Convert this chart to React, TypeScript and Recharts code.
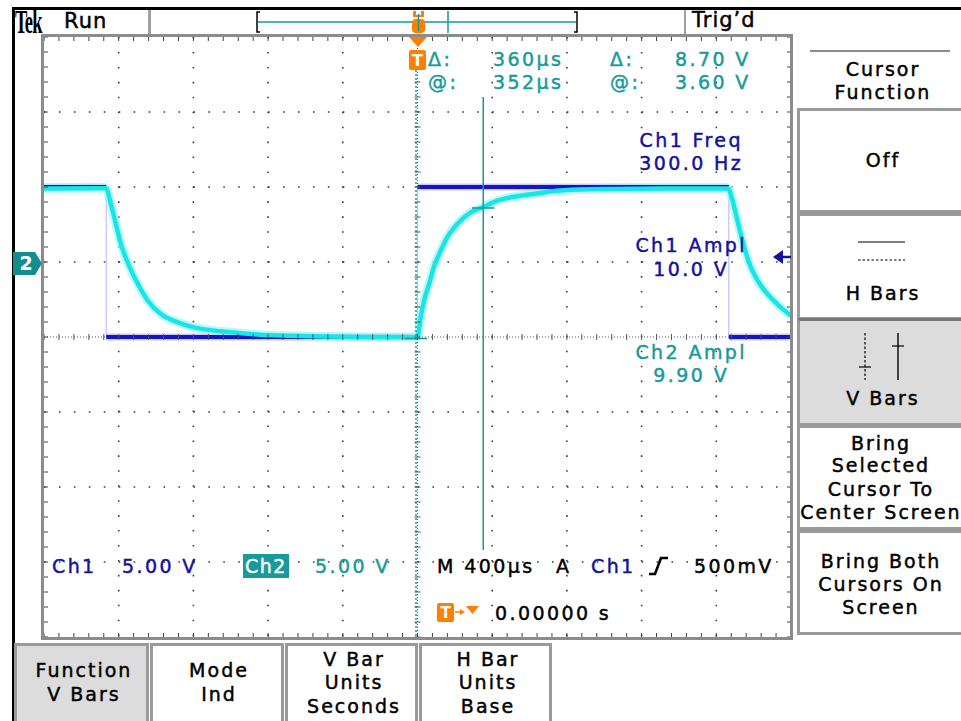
import React from 'react';
import {
  ComposedChart,
  Line,
  Scatter,
  XAxis,
  YAxis,
  CartesianGrid,
  ReferenceLine,
} from 'recharts';

// time in µs (400 µs/div, trigger at centre), both channels in volts (5 V/div)
const ch1Trace = [
  { t: -2000, v: 10 },
  { t: -1667, v: 10 },
  { t: -1667, v: 0 },
  { t: 0, v: 0 },
  { t: 0, v: 10 },
  { t: 1667, v: 10 },
  { t: 1667, v: 0 },
  { t: 2000, v: 0 },
];

const ch2Trace = [
  { t: -2000, v: 4.9 },
  { t: -1700, v: 4.92 },
  { t: -1668, v: 4.92 },
  { t: -1642, v: 3.87 },
  { t: -1615, v: 2.53 },
  { t: -1588, v: 1.2 },
  { t: -1553, v: 0.0 },
  { t: -1497, v: -1.47 },
  { t: -1444, v: -2.58 },
  { t: -1374, v: -3.47 },
  { t: -1283, v: -4.02 },
  { t: -1196, v: -4.36 },
  { t: -1053, v: -4.62 },
  { t: -893, v: -4.8 },
  { t: -768, v: -4.89 },
  { t: -500, v: -4.96 },
  { t: -200, v: -5.0 },
  { t: 0, v: -5.02 },
  { t: 17, v: -3.69 },
  { t: 35, v: -2.58 },
  { t: 62, v: -1.47 },
  { t: 88, v: -0.33 },
  { t: 124, v: 0.75 },
  { t: 159, v: 1.64 },
  { t: 213, v: 2.53 },
  { t: 285, v: 3.31 },
  { t: 347, v: 3.64 },
  { t: 427, v: 4.09 },
  { t: 552, v: 4.42 },
  { t: 677, v: 4.64 },
  { t: 784, v: 4.78 },
  { t: 1040, v: 4.87 },
  { t: 1300, v: 4.9 },
  { t: 1663, v: 4.9 },
  { t: 1685, v: 4.2 },
  { t: 1711, v: 2.87 },
  { t: 1738, v: 1.53 },
  { t: 1774, v: 0.0 },
  { t: 1827, v: -1.35 },
  { t: 1899, v: -2.47 },
  { t: 1988, v: -3.47 },
  { t: 2000, v: -3.58 },
];

// cursors: dotted one at -8 µs, solid (selected) one at 352 µs, read on ch2
const cursorTimes = [-8, 352];
const cursorLevels = [-5.1, 3.6];

const majorTimes = [-1600, -1200, -800, -400, 400, 800, 1200, 1600];
const majorVolts = [-15, -10, -5, 5, 10, 15];
const minorTimes = Array.from({ length: 51 }, (_, i) => -2000 + i * 80);
const minorCh1 = Array.from({ length: 41 }, (_, i) => -20 + i);
const minorCh2 = Array.from({ length: 41 }, (_, i) => -25 + i);

const ch1Thick = ch1Trace.flatMap((p, i) =>
  i > 0 && ch1Trace[i - 1].t === p.t ? [{ t: p.t, v: null }, p] : [p]
);
const centreTicksH = minorTimes.map((t) => ({ t, v: 0 }));
const centreTicksV = minorCh1.map((v) => ({ t: 0, v }));

const TEAL = '#169a9a';
const BLUE = '#12129e';
const ORANGE = '#ff7f00';
const FONT = "'DejaVu Sans', 'Noto Sans', sans-serif";

const Txt = ({ x, y, children, c = '#000', s = 19, ls = 2.4, center = false }: any) => (
  <div
    style={{
      position: 'absolute',
      left: x,
      top: y - s * 0.48,
      fontSize: s,
      lineHeight: `${s}px`,
      letterSpacing: ls,
      color: c,
      whiteSpace: 'nowrap',
      WebkitTextStroke: `0.45px ${c}`,
      transform: center ? 'translateX(-50%)' : undefined,
      paddingLeft: center ? ls : 0,
    }}>
    {children}
  </div>
);

const Box = ({ x, y, w, h, bg = '#fff', top = '#9a9a9a' }: any) => (
  <div
    style={{
      position: 'absolute',
      left: x,
      top: y,
      width: w,
      height: h,
      background: bg,
      borderLeft: '3px solid #9a9a9a',
      borderTop: `3px solid ${top}`,
      borderRight: '3px solid #9a9a9a',
      borderBottom: '3px solid #9a9a9a',
      boxSizing: 'border-box',
    }}
  />
);

const MenuText = ({ x, lines }: any) => (
  <>
    {lines.map(([label, y]: any) => (
      <Txt key={label + y} x={x} y={y} s={19} ls={2} center>
        {label}
      </Txt>
    ))}
  </>
);

const tickH = (props: any) => (
  <line x1={props.cx} y1={props.cy - 3} x2={props.cx} y2={props.cy + 3} stroke="#555" strokeWidth={1} />
);
const tickV = (props: any) => (
  <line x1={props.cx - 3} y1={props.cy} x2={props.cx + 3} y2={props.cy} stroke="#555" strokeWidth={1} />
);

const Scope = () => (
  <ComposedChart width={747} height={600} margin={{ top: 0, right: 0, bottom: 0, left: 0 }}>
    <XAxis xAxisId="t" dataKey="t" type="number" domain={[-2000, 2000]} ticks={minorTimes}
      orientation="bottom" mirror axisLine={false} tickSize={4} tickLine={{ stroke: '#444' }}
      tickFormatter={() => ''} allowDataOverflow />
    <XAxis xAxisId="tTop" dataKey="t" type="number" domain={[-2000, 2000]} ticks={minorTimes}
      orientation="top" mirror axisLine={false} tickSize={4} tickLine={{ stroke: '#444' }}
      tickFormatter={() => ''} allowDataOverflow />
    <YAxis yAxisId="ch1" dataKey="v" type="number" domain={[-20, 20]} ticks={minorCh1}
      orientation="left" mirror axisLine={false} tickSize={4} tickLine={{ stroke: '#444' }}
      tickFormatter={() => ''} allowDataOverflow />
    <YAxis yAxisId="ch2" dataKey="v" type="number" domain={[-25, 15]} ticks={minorCh2}
      orientation="right" mirror axisLine={false} tickSize={4} tickLine={{ stroke: '#444' }}
      tickFormatter={() => ''} allowDataOverflow />
    <CartesianGrid xAxisId="t" yAxisId="ch1" verticalValues={majorTimes} horizontalValues={majorVolts}
      stroke="#3a3a3a" strokeWidth={1.6} strokeDasharray="1.6 13.34" />
    <ReferenceLine xAxisId="t" yAxisId="ch1" x={0} stroke="#555" strokeDasharray="1 2" />
    <ReferenceLine xAxisId="t" yAxisId="ch1" y={0} stroke="#555" strokeDasharray="1 2" />
    <Scatter xAxisId="t" yAxisId="ch1" data={centreTicksH} dataKey="v" shape={tickH} isAnimationActive={false} />
    <Scatter xAxisId="tTop" yAxisId="ch1" data={centreTicksV} dataKey="v" shape={tickV} isAnimationActive={false} />

    {/* ch1 edges are only faint verticals */}
    <Line xAxisId="t" yAxisId="ch1" data={ch1Trace} dataKey="v" type="linear" stroke="#b4b4ff"
      strokeWidth={1} dot={false} isAnimationActive={false} />
    <Line xAxisId="t" yAxisId="ch1" data={ch1Thick} dataKey="v" type="linear" stroke="#8a8af2"
      strokeWidth={7} strokeOpacity={0.45} dot={false} isAnimationActive={false} />
    <Line xAxisId="t" yAxisId="ch2" data={ch2Trace} dataKey="v" type="monotone" stroke="#a6f4f4"
      strokeWidth={9} strokeOpacity={0.7} dot={false} isAnimationActive={false} />
    <Line xAxisId="t" yAxisId="ch1" data={ch1Thick} dataKey="v" type="linear" stroke="#1414c8"
      strokeWidth={4} dot={false} isAnimationActive={false} />
    <Line xAxisId="t" yAxisId="ch2" data={ch2Trace} dataKey="v" type="monotone" stroke="#18e6e6"
      strokeWidth={4.5} dot={false} isAnimationActive={false} />

    {/* cursors */}
    <ReferenceLine xAxisId="t" yAxisId="ch1" stroke={TEAL} strokeDasharray="2 2" strokeWidth={1.5}
      segment={[{ x: cursorTimes[0], y: 17.8 }, { x: cursorTimes[0], y: -20 }]} />
    <ReferenceLine xAxisId="t" yAxisId="ch1" stroke={TEAL} strokeWidth={1.5}
      segment={[{ x: cursorTimes[1], y: 16 }, { x: cursorTimes[1], y: -14.2 }]} />
    <ReferenceLine xAxisId="t" yAxisId="ch2" stroke={TEAL} strokeWidth={1.5}
      segment={[{ x: cursorTimes[0] - 60, y: cursorLevels[0] }, { x: cursorTimes[0] + 60, y: cursorLevels[0] }]} />
    <ReferenceLine xAxisId="t" yAxisId="ch2" stroke={TEAL} strokeWidth={1.5}
      segment={[{ x: cursorTimes[1] - 60, y: cursorLevels[1] }, { x: cursorTimes[1] + 60, y: cursorLevels[1] }]} />
  </ComposedChart>
);

export default function App() {
  return (
    <div style={{ position: 'fixed', left: 0, top: 0, width: 961, height: 721, background: '#fff',
      overflow: 'hidden', fontFamily: FONT }}>
      {/* outer black frame */}
      <div style={{ position: 'absolute', left: 12, top: 7, width: 960, height: 3, background: '#000' }} />
      <div style={{ position: 'absolute', left: 12, top: 7, width: 2.5, height: 720, background: '#000' }} />

      {/* header */}
      <div style={{ position: 'absolute', left: 15, top: 6, fontFamily: "'Liberation Serif', serif", fontWeight: 'bold',
        fontSize: 33, lineHeight: '33px', transform: 'scaleX(0.56)', transformOrigin: 'left', letterSpacing: -1.5 }}>Tek</div>
      <Txt x={64} y={21} s={21} ls={1}>Run</Txt>
      <div style={{ position: 'absolute', left: 148, top: 10, width: 3, height: 25, background: '#a0a0a0' }} />
      <div style={{ position: 'absolute', left: 684, top: 10, width: 2, height: 25, background: '#a0a0a0' }} />
      <Txt x={692} y={20} s={21} ls={1}>Trig’d</Txt>

      {/* plot */}
      <div style={{ position: 'absolute', left: 44, top: 37 }}>
        <Scope />
      </div>
      <div style={{ position: 'absolute', left: 41, top: 34, width: 752, height: 606,
        border: '3px solid #8c8c8c', boxSizing: 'border-box' }} />

      {/* readouts */}
      <Txt x={428} y={59} c={TEAL}>Δ:</Txt>
      <Txt x={493} y={59} c={TEAL}>360µs</Txt>
      <Txt x={610} y={59} c={TEAL}>Δ:</Txt>
      <Txt x={675} y={59} c={TEAL}>8.70 V</Txt>
      <Txt x={428} y={82} c={TEAL}>@:</Txt>
      <Txt x={493} y={82} c={TEAL}>352µs</Txt>
      <Txt x={610} y={82} c={TEAL}>@:</Txt>
      <Txt x={675} y={82} c={TEAL}>3.60 V</Txt>

      <Txt x={690} y={140} c={BLUE} center>Ch1 Freq</Txt>
      <Txt x={690} y={163} c={BLUE} center>300.0 Hz</Txt>
      <Txt x={690} y={245} c={BLUE} center>Ch1 Ampl</Txt>
      <Txt x={690} y={269} c={BLUE} center>10.0 V</Txt>
      <Txt x={690} y={352} c={TEAL} center>Ch2 Ampl</Txt>
      <Txt x={690} y={375} c={TEAL} center>9.90 V</Txt>

      <Txt x={52} y={566} c={BLUE}>Ch1</Txt>
      <Txt x={122} y={566} c={BLUE}>5.00 V</Txt>
      <div style={{ position: 'absolute', left: 243, top: 554, width: 46, height: 24, background: TEAL }} />
      <Txt x={245} y={566} c="#fff" ls={1.5}>Ch2</Txt>
      <Txt x={315} y={566} c={TEAL}>5.00 V</Txt>
      <Txt x={437} y={566}>M 400µs</Txt>
      <Txt x={556} y={566}>A</Txt>
      <Txt x={591} y={566} c={BLUE}>Ch1</Txt>
      <Txt x={694} y={566}>500mV</Txt>
      <Txt x={495} y={613}>0.00000 s</Txt>

      {/* right menu */}
      <div style={{ position: 'absolute', left: 810, top: 50, width: 140, height: 2, background: '#8c8c8c' }} />
      <MenuText x={882} lines={[['Cursor', 69], ['Function', 92]]} />
      <Box x={797} y={108} w={180} h={105} />
      <MenuText x={882} lines={[['Off', 160]]} />
      <Box x={797} y={213} w={180} h={107} />
      <MenuText x={882} lines={[['H Bars', 293]]} />
      <Box x={797} y={318} w={180} h={108} bg="#dcdcdc" top="#777" />
      <MenuText x={882} lines={[['V Bars', 398]]} />
      <Box x={797} y={425} w={180} h={105} />
      <MenuText x={880} lines={[['Bring', 443], ['Selected', 465], ['Cursor To', 489], ['Center Screen', 512]]} />
      <Box x={797} y={530} w={180} h={105} />
      <MenuText x={880} lines={[['Bring Both', 561], ['Cursors On', 584], ['Screen', 607]]} />

      {/* bottom menu */}
      <Box x={14} y={643} w={135} h={90} bg="#dcdcdc" />
      <MenuText x={83} lines={[['Function', 670], ['V Bars', 694]]} />
      <Box x={150} y={643} w={134} h={90} />
      <MenuText x={218} lines={[['Mode', 670], ['Ind', 694]]} />
      <Box x={285} y={643} w={133} h={90} />
      <MenuText x={353} lines={[['V Bar', 659], ['Units', 682], ['Seconds', 706]]} />
      <Box x={419} y={643} w={133} h={90} />
      <MenuText x={487} lines={[['H Bar', 659], ['Units', 682], ['Base', 706]]} />

      {/* glyphs and markers */}
      <svg width={961} height={721} style={{ position: 'absolute', left: 0, top: 0 }}>
        {/* record bar */}
        <path d="M260 12 H257 V32 H260" fill="none" stroke="#000" strokeWidth={1.5} />
        <path d="M574 12 H577 V32 H574" fill="none" stroke="#000" strokeWidth={1.5} />
        <line x1={258} y1={22} x2={576} y2={22} stroke={TEAL} strokeWidth={1.5} />
        <line x1={448} y1={11} x2={448} y2={33} stroke={TEAL} strokeWidth={1.5} />
        <path d="M413 11 h3 v4 h5 v-4 h3 v6 h-11 z" fill={ORANGE} />
        <rect x={412} y={19} width={13} height={14} rx={4} fill={ORANGE} />
        <line x1={418.5} y1={14} x2={418.5} y2={31} stroke={TEAL} strokeWidth={1.5} />

        {/* trigger position */}
        <path d="M409 37 H427 L418 47 Z" fill={ORANGE} />
        <rect x={409} y={50} width={17} height={20} rx={2} fill={ORANGE} />
        <text x={417.5} y={66} fill="#fff" fontSize={16} fontWeight="bold" textAnchor="middle" fontFamily={FONT}>T</text>

        {/* ch2 ground marker */}
        <path d="M13 252 H35 L42 263.5 L35 275 H13 Z" fill="#138e8e" />
        <text x={26} y={270} fill="#fff" fontSize={19} fontWeight="bold" textAnchor="middle" fontFamily={FONT}>2</text>

        {/* ch1 level arrow */}
        <path d="M773 257 L783 250 L783 264 Z" fill={BLUE} />
        <line x1={780} y1={257} x2={791} y2={257} stroke={BLUE} strokeWidth={2.5} />

        {/* trigger slope */}
        <path d="M649 574 H655 L661 558 H668" fill="none" stroke="#000" strokeWidth={2.6} />

        {/* trigger time */}
        <rect x={437} y={603} width={17} height={19} rx={2} fill={ORANGE} />
        <text x={445.5} y={618} fill="#fff" fontSize={15} fontWeight="bold" textAnchor="middle" fontFamily={FONT}>T</text>
        <line x1={455} y1={612} x2={463} y2={612} stroke={ORANGE} strokeWidth={1.5} />
        <path d="M460 609 L465 612 L460 615 Z" fill={ORANGE} />
        <path d="M466 606 H479 L472.5 614 Z" fill={ORANGE} />

        {/* H bars icon */}
        <line x1={858} y1={242} x2={905} y2={242} stroke="#000" strokeWidth={1.2} />
        <line x1={858} y1={260} x2={905} y2={260} stroke="#000" strokeWidth={1.2} strokeDasharray="2.5 2" />

        {/* V bars icon */}
        <line x1={865} y1={333} x2={865} y2={380} stroke="#000" strokeWidth={1.2} strokeDasharray="2.5 2" />
        <line x1={859} y1={367} x2={871} y2={367} stroke="#000" strokeWidth={1.2} />
        <line x1={898} y1={333} x2={898} y2={380} stroke="#000" strokeWidth={1.4} />
        <line x1={892} y1={346} x2={904} y2={346} stroke="#000" strokeWidth={1.2} />
      </svg>
    </div>
  );
}
